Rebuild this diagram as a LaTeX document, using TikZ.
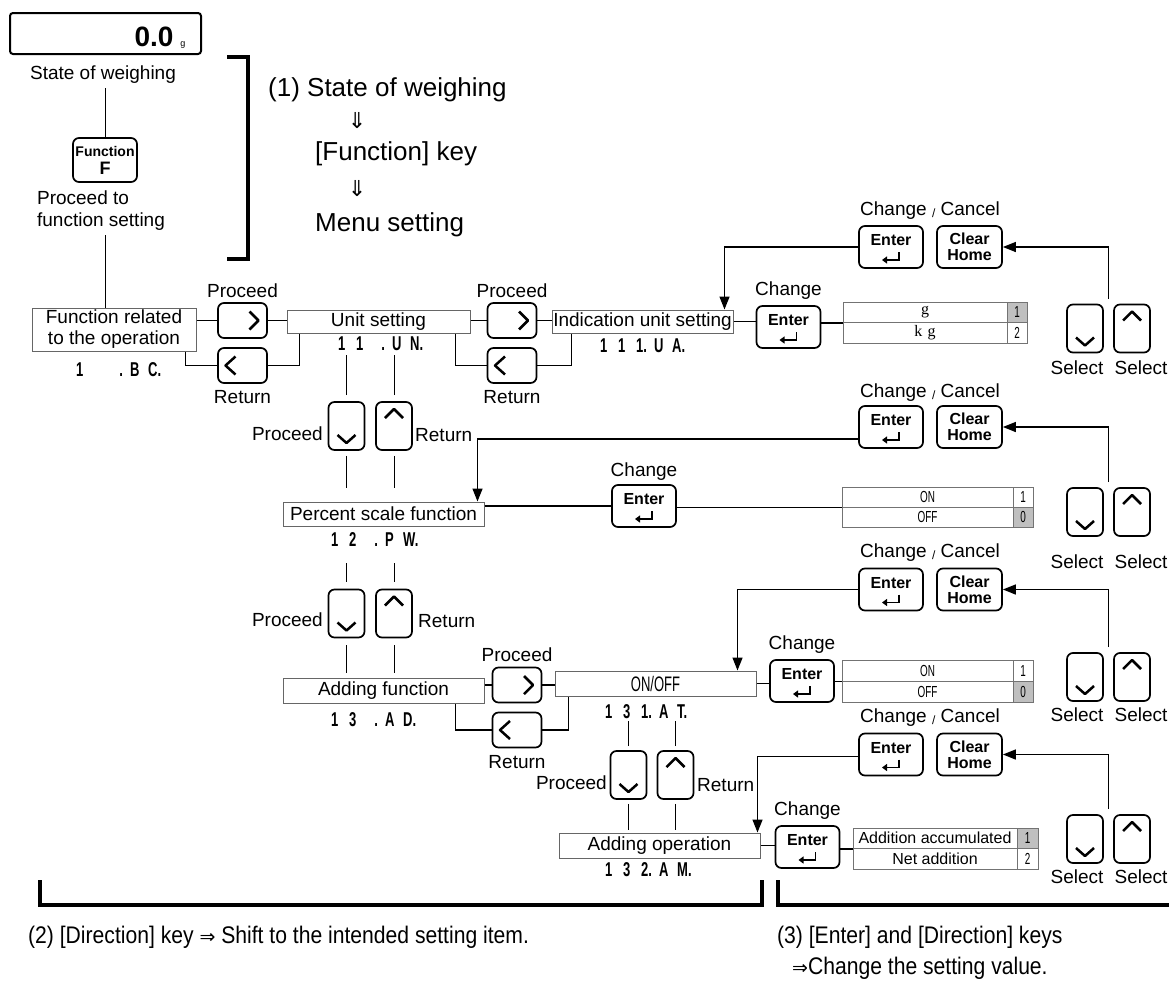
\documentclass[tikz,border=0pt]{standalone}
\usepackage{fontspec}
\setmainfont{Liberation Sans}
\newfontfamily\narrowfont[FakeStretch=0.88]{Liberation Sans}
\newfontfamily\condfont[FakeStretch=0.62]{Liberation Sans}
\newfontfamily\codefont[FakeStretch=0.65]{Liberation Sans}
\newfontfamily\symfont{DejaVu Sans}
\newfontfamily\seriffont{Liberation Serif}
\usetikzlibrary{arrows.meta,calc}

\newcommand\segcode[5]{\makebox[18pt][l]{#1}\makebox[18pt][l]{#2}\makebox[18pt][l]{#3}\makebox[18pt][l]{#4}\makebox[18pt][l]{#5}}
\newcommand\slashsm{\raisebox{-2pt}{\fontsize{12}{12}\selectfont/}}

\tikzset{
  lab/.style={font=\fontsize{19}{22}\selectfont, inner sep=0pt},
  big/.style={font=\fontsize{26}{30}\selectfont, inner sep=0pt, anchor=west},
  codetxt/.style={font=\codefont\bfseries\fontsize{20}{22}\selectfont, inner sep=0pt, anchor=west},
  item/.style={draw=black!60, line width=1pt, inner sep=0pt, font=\fontsize{19}{22}\selectfont},
  keybox/.style={draw, line width=1.7pt, rounded corners=6pt, inner sep=0pt},
  chev/.style={line width=2.5pt, line join=round},
  conn/.style={line width=1.4pt},
  thinconn/.style={line width=1pt},
  arr/.style={line width=1.4pt, -{Triangle[length=13pt,width=10pt]}},
  cell/.style={draw=black!55, line width=0.8pt, inner sep=0pt, font=\condfont\fontsize{16}{16}\selectfont},
  hl/.style={fill=black!25},
  brk/.style={line width=3.5pt},
  bottomtxt/.style={anchor=west, inner sep=0pt, font=\narrowfont\fontsize{24}{28}\selectfont},
}

\newcommand\myR[3]{\node[keybox,minimum width=49pt,minimum height=35pt] (#1) at (#2,#3) {};
  \draw[chev] ($(#1.center)+(7,-9)$) -- ($(#1.center)+(16,0)$) -- ($(#1.center)+(7,9)$);}
\newcommand\myL[3]{\node[keybox,minimum width=49pt,minimum height=35pt] (#1) at (#2,#3) {};
  \draw[chev] ($(#1.center)+(-7,-9)$) -- ($(#1.center)+(-17,0)$) -- ($(#1.center)+(-7,9)$);}
\newcommand\myD[3]{\node[keybox,minimum width=36pt,minimum height=48pt] (#1) at (#2,#3) {};
  \draw[chev] ($(#1.center)+(-9,9)$) -- ($(#1.center)+(0,17)$) -- ($(#1.center)+(9,9)$);}
\newcommand\myU[3]{\node[keybox,minimum width=36pt,minimum height=48pt] (#1) at (#2,#3) {};
  \draw[chev] ($(#1.center)+(-9,-8)$) -- ($(#1.center)+(0,-17)$) -- ($(#1.center)+(9,-8)$);}
\newcommand\myE[3]{\node[keybox,minimum width=64pt,minimum height=42pt,font=\bfseries\fontsize{16}{16}\selectfont,text height=11.5pt,text depth=14pt] (#1) at (#2,#3) {Enter};
  \draw[line width=1.5pt,-{Triangle[length=5pt,width=7pt]}] ($(#1.center)+(8,5)$) -- ($(#1.center)+(8,13)$) -- ($(#1.center)+(-9,13)$);}
\newcommand\myC[3]{\node[keybox,minimum width=65pt,minimum height=42pt,align=center,font=\bfseries\fontsize{16}{16}\selectfont] (#1) at (#2,#3) {Clear\\Home};}

\begin{document}
\begin{tikzpicture}[x=1pt,y=-1pt]
\useasboundingbox (0,0) rectangle (1169,1001);

% ---------- top-left ----------
\node[draw, line width=2pt, rounded corners=3pt, minimum width=191pt, minimum height=41pt] (disp) at (105.5,33.5) {};
\node[font=\bfseries\fontsize{28}{28}\selectfont, inner sep=0pt] (dispv) at (154,37) {0.0};
\node[font=\fontsize{9}{9}\selectfont, inner sep=0pt] (dispu) at (183,45) {g};
\node[lab] (sw) at (103,75) {State of weighing};
\node[keybox, minimum width=64pt, minimum height=44pt, align=center, font=\bfseries\fontsize{14}{18}\selectfont] (fkey) at (105,160) {Function\\{\fontsize{18}{18}\selectfont F}};
\node[lab, align=left] (ptf) at (101,211) {Proceed to\\function setting};
\draw[brk] (227,57) -- (248,57) -- (248,259) -- (227,259);

\node[big] (s1a) at (268,90) {(1)\ State of weighing};
\node[font=\symfont\fontsize{22}{22}\selectfont, inner sep=0pt] (s1b) at (357,121) {⇓};
\node[big] (s1c) at (315,154) {[Function] key};
\node[font=\symfont\fontsize{22}{22}\selectfont, inner sep=0pt] (s1d) at (357,189) {⇓};
\node[big] (s1e) at (315,225) {Menu setting};

% ---------- row 1 ----------
\node[item, minimum width=164pt, minimum height=43pt, align=center, font=\fontsize{19}{21}\selectfont] (fr) at (114,329.5) {Function related\\to the operation};
\node[codetxt] (cbc) at (76,370) {\segcode{1}{}{\phantom{1}.}{B}{C.}};
\draw[thinconn] ([yshift=-4pt]sw.south -| fkey.north) -- (fkey.north);
\draw[thinconn] ([yshift=-4pt]ptf.south -| fkey.south) -- (fkey.south |- fr.north);

\myR{kP1}{242.5}{320.5}
\myL{kR1}{242.5}{365.5}
\node[lab] (lP1) at (242.5,291) {Proceed};
\node[lab] (lR1) at (242.5,397) {Return};
\node[item, minimum width=183pt, minimum height=23pt] (us) at (378.5,321.5) {Unit setting};
\node[codetxt] (cun) at (338,344) {\segcode{1}{1}{\phantom{1}.}{U}{N.}};
\myR{kP2}{512}{320.5}
\myL{kR2}{512}{365.5}
\node[lab] (lP2) at (512,291) {Proceed};
\node[lab] (lR2) at (512,397) {Return};
\node[item, minimum width=181pt, minimum height=23pt] (ius) at (642.5,321.5) {Indication unit setting};
\node[codetxt] (cua) at (600,346) {\segcode{1}{1}{1.}{U}{A.}};
\myE{kE1}{788.5}{327}
\node[lab] (lE1) at (788.5,291) {Change};
\node[cell, minimum width=164pt, minimum height=20.5pt] (t1a) at (925,312.25) {\seriffont g};
\node[cell, minimum width=164pt, minimum height=20.5pt] (t1b) at (925,332.75) {\seriffont k\,\,g};
\node[cell, hl, minimum width=20pt, minimum height=20.5pt] (t1n1) at (1017,312.25) {1};
\node[cell, minimum width=20pt, minimum height=20.5pt] (t1n2) at (1017,332.75) {2};
\myE{kE1c}{891}{247}
\myC{kC1}{969.5}{247}
\node[lab] (lCC1) at (930,211) {Change \slashsm\ Cancel};
\myD{kD1}{1085}{328.5}
\myU{kU1}{1132}{328.5}
\node[lab] (lS1a) at (1077,368) {Select};
\node[lab] (lS1b) at (1141,368) {Select};

\draw[conn] (fr.east |- kP1.west) -- (kP1.west);
\draw[conn] (kP1.east) -- (kP1.east -| us.west);
\draw[conn] ([xshift=-11pt]fr.south east) |- (kR1.west);
\draw[conn] (kR1.east) -| ([xshift=13pt]us.south west);
\draw[conn] (us.east |- kP2.west) -- (kP2.west);
\draw[conn] (kP2.east) -- (kP2.east -| ius.west);
\draw[conn] ([xshift=-15pt]us.south east) |- (kR2.west);
\draw[conn] (kR2.east) -| ([xshift=20pt]ius.south west);
\draw[conn] (ius.east) -- (ius.east -| kE1.west);
\draw[conn] (t1a.south west -| kE1.east) -- (t1a.south west);
\draw[arr] (kE1c.west) -| ([xshift=-9pt]ius.north east);
\coordinate (sel1) at ($(kD1.north east)!0.5!(kU1.north west)$);
\draw[arr] ([yshift=5pt]sel1) |- (kC1.east);

% ---------- row 2 ----------
\myD{kD2}{346.5}{426}
\myU{kU2}{394}{426}
\node[lab, anchor=east] (lP3) at (323,434) {Proceed};
\node[lab, anchor=west] (lR3) at (415,435) {Return};
\node[item, minimum width=201pt, minimum height=24pt] (pf) at (383.5,514) {Percent scale function};
\node[codetxt] (cpw) at (331,540) {\segcode{1}{2}{\phantom{1}.}{P}{W.}};
\draw[thinconn] ([yshift=6pt]kD2.north) -- ++(0,-40);
\draw[thinconn] ([yshift=6pt]kU2.north) -- ++(0,-40);
\draw[thinconn] ([yshift=-5pt]kD2.south) -- ([yshift=14pt]pf.north -| kD2.south);
\draw[thinconn] ([yshift=-5pt]kU2.south) -- ([yshift=14pt]pf.north -| kU2.south);
\myE{kE2}{644}{506}
\node[lab] (lE2) at (644,472) {Change};
\node[cell, minimum width=171pt, minimum height=20pt] (t2a) at (927.5,497) {ON};
\node[cell, minimum width=171pt, minimum height=20pt] (t2b) at (927.5,517) {OFF};
\node[cell, minimum width=20pt, minimum height=20pt] (t2n1) at (1023,497) {1};
\node[cell, hl, minimum width=20pt, minimum height=20pt] (t2n2) at (1023,517) {0};
\myE{kE2c}{891}{427}
\myC{kC2}{969.5}{427}
\node[lab] (lCC2) at (930,393) {Change \slashsm\ Cancel};
\myD{kD2s}{1085}{512}
\myU{kU2s}{1132}{512}
\node[lab] (lS2a) at (1077,562) {Select};
\node[lab] (lS2b) at (1141,562) {Select};

\draw[arr] ([yshift=-12pt]kE2c.west) -| ([xshift=-7pt]pf.north east);
\draw[conn] (kE2.west -| pf.east) -- (kE2.west);
\draw[conn] (t2a.south west -| kE2.east) -- (t2a.south west);
\coordinate (sel2) at ($(kD2s.north east)!0.5!(kU2s.north west)$);
\draw[arr] ([yshift=5pt]sel2) |- (kC2.east);

% ---------- row 3 ----------
\myD{kD3}{346.5}{613.5}
\myU{kU3}{394}{613.5}
\node[lab, anchor=east] (lP4) at (323,620) {Proceed};
\node[lab, anchor=west] (lR4) at (418,621) {Return};
\draw[thinconn] ([yshift=7pt]kD3.north) -- ++(0,-19);
\draw[thinconn] ([yshift=7pt]kU3.north) -- ++(0,-19);
\node[item, minimum width=201pt, minimum height=25pt] (af) at (383.5,690.5) {Adding function};
\node[codetxt] (cad) at (331,720) {\segcode{1}{3}{\phantom{1}.}{A}{D.}};
\draw[thinconn] ([yshift=-7pt]kD3.south) -- ([yshift=5pt]af.north -| kD3.south);
\draw[thinconn] ([yshift=-7pt]kU3.south) -- ([yshift=5pt]af.north -| kU3.south);
\myR{kP3}{517}{685}
\myL{kR3}{517}{730}
\node[lab] (lP5) at (517,655) {Proceed};
\node[lab] (lR5) at (517,762) {Return};
\node[item, minimum width=201pt, minimum height=25pt, font=\condfont\fontsize{21}{22}\selectfont] (onoff) at (655.5,683.5) {ON/OFF};
\node[codetxt] (cat) at (605,712) {\segcode{1}{3}{1.}{A}{T.}};
\myE{kE3}{802}{681}
\node[lab] (lE3) at (802,645) {Change};
\node[cell, minimum width=171pt, minimum height=21pt] (t3a) at (927.5,670.5) {ON};
\node[cell, minimum width=171pt, minimum height=21pt] (t3b) at (927.5,691.5) {OFF};
\node[cell, minimum width=20pt, minimum height=21pt] (t3n1) at (1023,670.5) {1};
\node[cell, hl, minimum width=20pt, minimum height=21pt] (t3n2) at (1023,691.5) {0};
\myE{kE3c}{891}{589.5}
\myC{kC3}{969.5}{589.5}
\node[lab] (lCC3) at (930,553) {Change \slashsm\ Cancel};
\myD{kD3s}{1085}{677}
\myU{kU3s}{1132}{677}
\node[lab] (lS3a) at (1077,715) {Select};
\node[lab] (lS3b) at (1141,715) {Select};

\draw[conn] (kP3.west -| af.east) -- (kP3.west);
\draw[conn] (kP3.east) -- (kP3.east -| onoff.west);
\draw[conn] ([xshift=-29pt]af.south east) |- (kR3.west);
\draw[conn] (kR3.east) -| ([xshift=14pt]onoff.south west);
\draw[conn] (onoff.east) -- (onoff.east -| kE3.west);
\draw[conn] (t3a.south west -| kE3.east) -- (t3a.south west);
\draw[arr] (kE3c.west) -| ([xshift=-19pt]onoff.north east);
\coordinate (sel3) at ($(kD3s.north east)!0.5!(kU3s.north west)$);
\draw[arr] ([yshift=5pt]sel3) |- (kC3.east);

% ---------- row 4 ----------
\myD{kD4}{628.5}{775}
\myU{kU4}{675.5}{775}
\node[lab, anchor=east] (lP6) at (607,783) {Proceed};
\node[lab, anchor=west] (lR6) at (697,785) {Return};
\draw[thinconn] ([yshift=4pt]kD4.north) -- ++(0,-25);
\draw[thinconn] ([yshift=4pt]kU4.north) -- ++(0,-25);
\node[item, minimum width=201pt, minimum height=25pt] (ao) at (659.5,845.5) {Adding operation};
\node[codetxt] (cam) at (605,870) {\segcode{1}{3}{2.}{A}{M.}};
\draw[thinconn] ([yshift=-4pt]kD4.south) -- ([yshift=3pt]ao.north -| kD4.south);
\draw[thinconn] ([yshift=-4pt]kU4.south) -- ([yshift=3pt]ao.north -| kU4.south);
\myE{kE4}{807.5}{847}
\node[lab] (lE4) at (807.5,811) {Change};
\node[cell, minimum width=164pt, minimum height=20.5pt, font=\fontsize{16}{16}\selectfont] (t4a) at (935,838.25) {Addition accumulated};
\node[cell, minimum width=164pt, minimum height=20.5pt, font=\fontsize{16}{16}\selectfont] (t4b) at (935,858.75) {Net addition};
\node[cell, hl, minimum width=21pt, minimum height=20.5pt] (t4n1) at (1027.5,838.25) {1};
\node[cell, minimum width=21pt, minimum height=20.5pt] (t4n2) at (1027.5,858.75) {2};
\myE{kE4c}{891}{754.5}
\myC{kC4}{969.5}{754.5}
\node[lab] (lCC4) at (930,718) {Change \slashsm\ Cancel};
\myD{kD4s}{1085}{839}
\myU{kU4s}{1132}{839}
\node[lab] (lS4a) at (1077,877) {Select};
\node[lab] (lS4b) at (1141,877) {Select};

\draw[conn] (ao.east) -- (ao.east -| kE4.west);
\draw[conn] (t4a.south west -| kE4.east) -- (t4a.south west);
\draw[arr] ([yshift=-2pt]kE4c.west) -| ([xshift=-3pt]ao.north east);
\coordinate (sel4) at ($(kD4s.north east)!0.5!(kU4s.north west)$);
\draw[arr] ([yshift=5pt]sel4) |- (kC4.east);

% ---------- bottom ----------
\draw[brk] (40,880) -- (40,905) -- (762,905) -- (762,880);
\draw[brk] (778,880) -- (778,905) -- (1169,905);
\node[bottomtxt] (n2) at (28,937) {(2) [Direction] key {\symfont\fontsize{19}{19}\selectfont ⇒} Shift to the intended setting item.};
\node[bottomtxt] (n3) at (777,937) {(3) [Enter] and [Direction] keys};
\node[bottomtxt] (n3b) at (792,968) {{\symfont\fontsize{19}{19}\selectfont ⇒}Change the setting value.};
\end{tikzpicture}
\end{document}
